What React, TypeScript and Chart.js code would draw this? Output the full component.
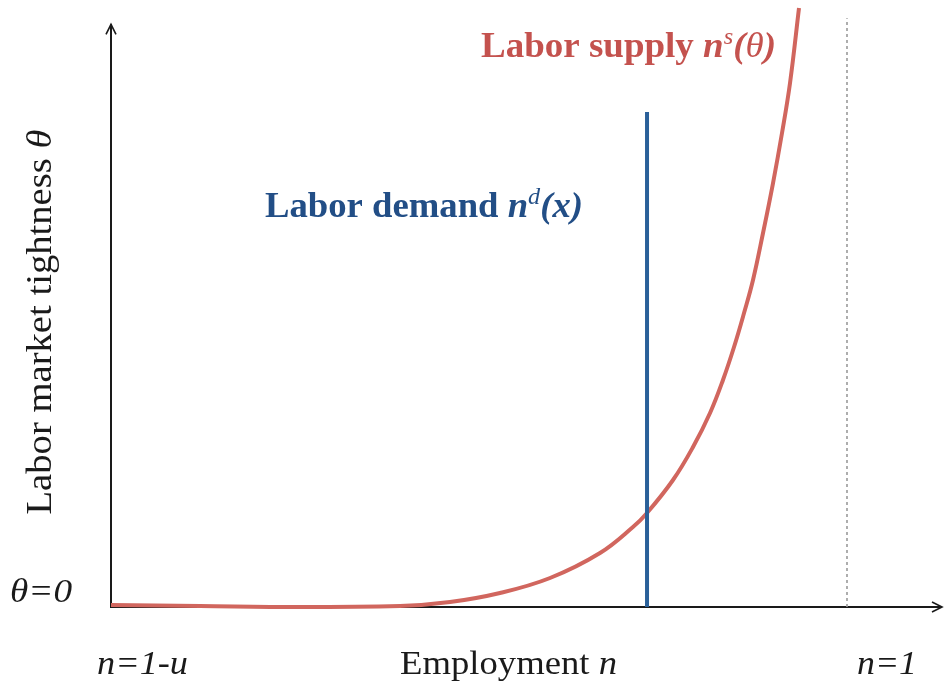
import React, { useEffect, useRef } from 'react';
import { Chart, registerables } from 'chart.js';

Chart.register(...registerables);

// ---- data (n measured from n=1-u (0) to n=1 (1); theta from 0 to top of plot (1)) ----
const supplyN = [0, 0.1209, 0.2568, 0.3927, 0.4606, 0.5285, 0.5965, 0.6644, 0.7092, 0.7283, 0.7636, 0.7908, 0.8139, 0.8315, 0.8465, 0.8601, 0.8723, 0.8859, 0.8995, 0.9117, 0.9226, 0.9348];
const supplyTheta = [0.0033, 0.0016, 0.0, 0.0016, 0.0082, 0.0231, 0.0478, 0.089, 0.1318, 0.1549, 0.2092, 0.2636, 0.3196, 0.374, 0.4283, 0.4843, 0.5387, 0.6161, 0.6985, 0.7809, 0.8633, 0.9868];
const demandN = [0.7283, 0.7283];
const demandTheta = [0, 0.8155];
const fullEmpN = [1, 1];
const fullEmpTheta = [0, 0.97];
const xRange = [0, 1.1318];
const yRange = [0, 1];
const yArrowTop = 0.96;

const supplyLabel = [
  { t: 'Labor supply ', b: true },
  { t: 'n', b: true, i: true },
  { t: 's', i: true, sup: true },
  { t: '(', i: true, b: true },
  { t: 'θ', i: true },
  { t: ')', i: true, b: true },
];
const demandLabel = [
  { t: 'Labor demand ', b: true },
  { t: 'n', b: true, i: true },
  { t: 'd', i: true, sup: true },
  { t: '(x)', i: true, b: true },
];
const yAxisLabel = [{ t: 'Labor market tightness ' }, { t: 'θ', i: true }];
const xAxisLabel = [{ t: 'Employment ' }, { t: 'n', i: true }];
const thetaZeroLabel = [{ t: 'θ=0', i: true }];
const leftNLabel = [{ t: 'n=1-u', i: true }];
const rightNLabel = [{ t: 'n=1', i: true }];

const SERIF = '"Liberation Serif", "Times New Roman", Times, serif';

type Seg = { t: string; b?: boolean; i?: boolean; sup?: boolean };

function segFont(s: Seg, size: number) {
  const sz = s.sup ? size * 0.66 : size;
  return `${s.i ? 'italic ' : ''}${s.b ? 'bold ' : ''}${sz}px ${SERIF}`;
}

// draws rich text scaled so that it spans targetWidth (with an optional horizontal stretch)
function drawRich(
  ctx: CanvasRenderingContext2D,
  segs: Seg[],
  x: number,
  y: number,
  targetWidth: number,
  color: string,
  stretch = 1,
  rotate = false
) {
  const size = 30;
  ctx.save();
  let w = 0;
  for (const s of segs) {
    ctx.font = segFont(s, size);
    w += ctx.measureText(s.t).width;
  }
  const k = targetWidth / w;
  ctx.translate(x, y);
  if (rotate) ctx.rotate(-Math.PI / 2);
  ctx.scale(k, k / stretch);
  ctx.fillStyle = color;
  ctx.textBaseline = 'alphabetic';
  ctx.textAlign = 'left';
  let cx = rotate ? -w / 2 : 0;
  for (const s of segs) {
    ctx.font = segFont(s, size);
    ctx.fillText(s.t, cx, s.sup ? -size * 0.36 : 0);
    cx += ctx.measureText(s.t).width;
  }
  ctx.restore();
}

const axesPlugin = {
  id: 'econAxes',
  beforeDatasetsDraw(chart: any) {
    const ctx = chart.ctx as CanvasRenderingContext2D;
    const xs = chart.scales.x;
    const ys = chart.scales.y;
    const x0 = xs.getPixelForValue(0);
    const y0 = ys.getPixelForValue(0);
    const xEnd = xs.getPixelForValue(xRange[1]) - 2;
    const yTop = ys.getPixelForValue(yArrowTop);
    ctx.save();
    ctx.strokeStyle = '#1a1a1a';
    ctx.lineWidth = 2;
    ctx.lineCap = 'butt';
    ctx.beginPath();
    ctx.moveTo(x0, y0);
    ctx.lineTo(xEnd, y0);
    ctx.moveTo(x0, y0 + 1);
    ctx.lineTo(x0, yTop);
    ctx.stroke();
    ctx.lineWidth = 1.6;
    ctx.beginPath();
    ctx.moveTo(xEnd - 10, y0 - 5);
    ctx.lineTo(xEnd, y0);
    ctx.lineTo(xEnd - 10, y0 + 5);
    ctx.moveTo(x0 - 5, yTop + 10);
    ctx.lineTo(x0, yTop);
    ctx.lineTo(x0 + 5, yTop + 10);
    ctx.stroke();
    ctx.restore();
  },
  afterDraw(chart: any) {
    const ctx = chart.ctx as CanvasRenderingContext2D;
    drawRich(ctx, supplyLabel, 481, 57, 295, '#C4524E', 1.03);
    drawRich(ctx, demandLabel, 265, 217, 318, '#224E86', 1.03);
    drawRich(ctx, yAxisLabel, 51, 322, 385, '#1a1a1a', 1.1, true);
    drawRich(ctx, xAxisLabel, 400, 674, 217, '#1a1a1a', 1.1);
    drawRich(ctx, thetaZeroLabel, 10, 602, 62, '#1a1a1a', 1.08);
    drawRich(ctx, leftNLabel, 97, 674, 91, '#1a1a1a', 1.08);
    drawRich(ctx, rightNLabel, 857, 674, 60, '#1a1a1a', 1.08);
  },
};

export default function App() {
  const ref = useRef<HTMLCanvasElement | null>(null);
  useEffect(() => {
    document.body.style.margin = '0';
    const canvas = ref.current!;
    const chart = new Chart(canvas, {
      type: 'scatter',
      data: {
        datasets: [
          {
            label: 'Full employment',
            data: fullEmpN.map((n, k) => ({ x: n, y: fullEmpTheta[k] })),
            showLine: true,
            borderColor: '#9a9a9a',
            borderWidth: 1.6,
            borderDash: [3, 3],
            pointRadius: 0,
            clip: false,
          } as any,
          {
            label: 'Labor demand',
            data: demandN.map((n, k) => ({ x: n, y: demandTheta[k] })),
            showLine: true,
            borderColor: '#2A6099',
            borderWidth: 4,
            pointRadius: 0,
            borderCapStyle: 'butt',
            clip: false,
          } as any,
          {
            label: 'Labor supply',
            data: supplyN.map((n, k) => ({ x: n, y: supplyTheta[k] })),
            showLine: true,
            borderColor: '#D1665E',
            borderWidth: 4,
            pointRadius: 0,
            tension: 0.4,
            clip: false,
          } as any,
        ],
      },
      options: {
        responsive: false,
        animation: false,
        devicePixelRatio: 1,
        layout: { padding: { left: 111, right: 0, top: 0, bottom: 78 } },
        plugins: { legend: { display: false }, tooltip: { enabled: false } },
        events: [],
        scales: {
          x: { type: 'linear', min: xRange[0], max: xRange[1], display: false },
          y: { type: 'linear', min: yRange[0], max: yRange[1], display: false },
        },
      },
      plugins: [axesPlugin],
    });
    return () => {
      chart.destroy();
    };
  }, []);
  return (
    <canvas
      ref={ref}
      width={944}
      height={685}
      style={{ display: 'block', width: 944, height: 685, background: '#fff' }}
    />
  );
}
